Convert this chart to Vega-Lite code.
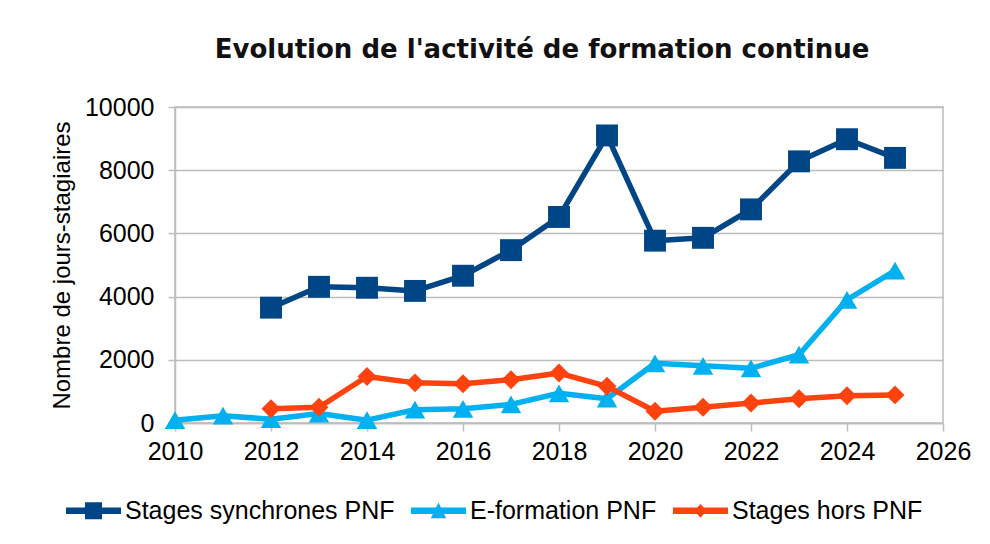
{
  "$schema": "https://vega.github.io/schema/vega-lite/v6.json",
  "autosize": "none",
  "width": 768,
  "height": 316,
  "padding": {"left": 175, "top": 107, "right": 47, "bottom": 121},
  "background": "white",
  "title": {
    "text": "Evolution de l'activité de formation continue",
    "font": "DejaVu Sans",
    "fontSize": 26,
    "fontWeight": "bold",
    "color": "#111111",
    "anchor": "middle",
    "frame": "group",
    "baseline": "alphabetic",
    "offset": 11,
    "dx": -17
  },
  "data": {
    "values": [
      {"series": "Stages synchrones PNF", "year": 2012, "value": 3650},
      {"series": "Stages synchrones PNF", "year": 2013, "value": 4310},
      {"series": "Stages synchrones PNF", "year": 2014, "value": 4280},
      {"series": "Stages synchrones PNF", "year": 2015, "value": 4180},
      {"series": "Stages synchrones PNF", "year": 2016, "value": 4660},
      {"series": "Stages synchrones PNF", "year": 2017, "value": 5470},
      {"series": "Stages synchrones PNF", "year": 2018, "value": 6520},
      {"series": "Stages synchrones PNF", "year": 2019, "value": 9100},
      {"series": "Stages synchrones PNF", "year": 2020, "value": 5770},
      {"series": "Stages synchrones PNF", "year": 2021, "value": 5860},
      {"series": "Stages synchrones PNF", "year": 2022, "value": 6760},
      {"series": "Stages synchrones PNF", "year": 2023, "value": 8280},
      {"series": "Stages synchrones PNF", "year": 2024, "value": 8980},
      {"series": "Stages synchrones PNF", "year": 2025, "value": 8390},
      {"series": "E-formation PNF", "year": 2010, "value": 90},
      {"series": "E-formation PNF", "year": 2011, "value": 230},
      {"series": "E-formation PNF", "year": 2012, "value": 120},
      {"series": "E-formation PNF", "year": 2013, "value": 300},
      {"series": "E-formation PNF", "year": 2014, "value": 90},
      {"series": "E-formation PNF", "year": 2015, "value": 420},
      {"series": "E-formation PNF", "year": 2016, "value": 450},
      {"series": "E-formation PNF", "year": 2017, "value": 590},
      {"series": "E-formation PNF", "year": 2018, "value": 940},
      {"series": "E-formation PNF", "year": 2019, "value": 770},
      {"series": "E-formation PNF", "year": 2020, "value": 1890},
      {"series": "E-formation PNF", "year": 2021, "value": 1810},
      {"series": "E-formation PNF", "year": 2022, "value": 1730},
      {"series": "E-formation PNF", "year": 2023, "value": 2160},
      {"series": "E-formation PNF", "year": 2024, "value": 3900},
      {"series": "E-formation PNF", "year": 2025, "value": 4820},
      {"series": "Stages hors PNF", "year": 2012, "value": 450},
      {"series": "Stages hors PNF", "year": 2013, "value": 500},
      {"series": "Stages hors PNF", "year": 2014, "value": 1470},
      {"series": "Stages hors PNF", "year": 2015, "value": 1270},
      {"series": "Stages hors PNF", "year": 2016, "value": 1240},
      {"series": "Stages hors PNF", "year": 2017, "value": 1370},
      {"series": "Stages hors PNF", "year": 2018, "value": 1580},
      {"series": "Stages hors PNF", "year": 2019, "value": 1160},
      {"series": "Stages hors PNF", "year": 2020, "value": 370},
      {"series": "Stages hors PNF", "year": 2021, "value": 500},
      {"series": "Stages hors PNF", "year": 2022, "value": 630},
      {"series": "Stages hors PNF", "year": 2023, "value": 770},
      {"series": "Stages hors PNF", "year": 2024, "value": 860},
      {"series": "Stages hors PNF", "year": 2025, "value": 890}
    ]
  },
  "encoding": {
    "x": {
      "field": "year",
      "type": "quantitative",
      "scale": {"domain": [2010, 2026], "nice": false, "zero": false},
      "axis": {
        "values": [2010, 2012, 2014, 2016, 2018, 2020, 2022, 2024, 2026],
        "format": "d",
        "title": null,
        "grid": false,
        "labelFont": "Liberation Sans",
        "labelFontSize": 25,
        "labelColor": "#000000",
        "labelPadding": 8,
        "tickSize": 8,
        "tickColor": "#BDBDBD",
        "domainColor": "#BDBDBD",
        "tickWidth": 1.5,
        "domainWidth": 1.5,
        "labelFlush": false
      }
    },
    "y": {
      "field": "value",
      "type": "quantitative",
      "scale": {"domain": [0, 10000], "nice": false},
      "axis": {
        "values": [0, 2000, 4000, 6000, 8000, 10000],
        "format": "d",
        "title": "Nombre de jours-stagiaires",
        "titleFont": "Liberation Sans",
        "titleFontSize": 24,
        "titleFontWeight": "normal",
        "titleColor": "#000000",
        "titlePadding": 10,
        "labelFont": "Liberation Sans",
        "labelFontSize": 25,
        "labelColor": "#000000",
        "labelPadding": 14,
        "tickSize": 7,
        "tickColor": "#BDBDBD",
        "domainColor": "#BDBDBD",
        "gridColor": "#BDBDBD",
        "gridWidth": 1.5,
        "tickWidth": 1.5,
        "domainWidth": 1.5
      }
    },
    "color": {
      "field": "series",
      "type": "nominal",
      "scale": {
        "domain": ["Stages synchrones PNF", "E-formation PNF", "Stages hors PNF"],
        "range": ["#004586", "#00B0F0", "#FF420E"]
      },
      "legend": {
        "title": null,
        "orient": "none",
        "direction": "horizontal",
        "columns": 3,
        "legendX": -109,
        "legendY": 376,
        "labelFont": "Liberation Sans",
        "labelFontSize": 25,
        "labelColor": "#000000",
        "labelLimit": 400,
        "labelOffset": 4,
        "columnPadding": 16,
        "symbolSize": 3025,
        "symbolType": "square",
        "encode": {
          "symbols": {
            "update": {
              "shape": {"signal": "datum.value === 'Stages synchrones PNF' ? 'M-1,-0.12H1V0.12H-1Z M-0.31,-0.31H0.31V0.31H-0.31Z' : datum.value === 'E-formation PNF' ? 'M-1,-0.12H1V0.12H-1Z M0,-0.3L0.28,0.27H-0.28Z' : 'M-1,-0.12H1V0.12H-1Z M0,-0.25L0.23,0L0,0.25L-0.23,0Z'"},
              "fill": {"signal": "scale('color', datum.value)"},
              "stroke": {"value": "transparent"},
              "strokeWidth": {"value": 0},
              "opacity": {"value": 1}
            }
          }
        }
      }
    }
  },
  "layer": [
    {
      "mark": {"type": "line", "strokeWidth": 5.5, "strokeJoin": "round"}
    },
    {
      "transform": [{"filter": "datum.series === 'Stages synchrones PNF'"}],
      "mark": {"type": "point", "filled": true, "opacity": 1, "shape": "square", "size": 480}
    },
    {
      "transform": [{"filter": "datum.series === 'E-formation PNF'"}],
      "mark": {"type": "point", "filled": true, "opacity": 1, "shape": "triangle-up", "size": 420}
    },
    {
      "transform": [{"filter": "datum.series === 'Stages hors PNF'"}],
      "mark": {"type": "point", "filled": true, "opacity": 1, "shape": "diamond", "size": 360}
    }
  ],
  "config": {
    "view": {"stroke": "#BDBDBD", "strokeWidth": 1.5}
  }
}
